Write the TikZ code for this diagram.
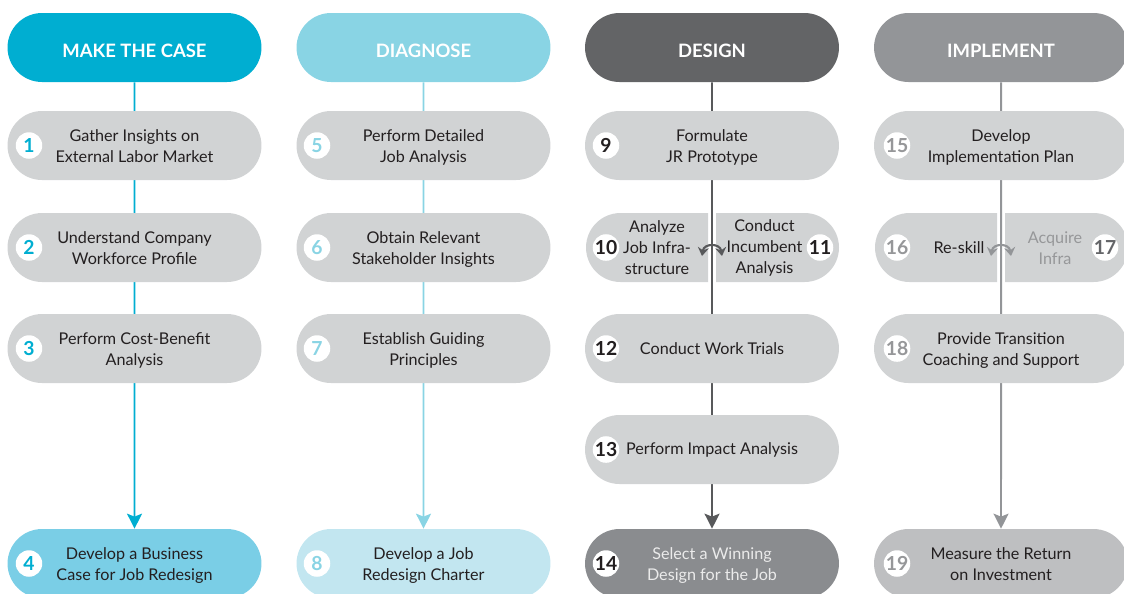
\documentclass[tikz,border=0pt]{standalone}
\usepackage{fontspec}
\setmainfont{Lato}
\usetikzlibrary{shapes.misc,arrows.meta,backgrounds}
\definecolor{cA}{RGB}{0,174,209}
\definecolor{cB}{RGB}{137,212,228}
\definecolor{cC}{RGB}{99,100,102}
\definecolor{cD}{RGB}{147,149,152}
\definecolor{lineC}{RGB}{88,89,91}
\definecolor{pillgray}{RGB}{209,211,212}
\definecolor{botA}{RGB}{122,206,230}
\definecolor{botB}{RGB}{194,230,240}
\definecolor{botC}{RGB}{138,140,143}
\definecolor{botD}{RGB}{190,191,193}
\definecolor{txt}{RGB}{35,31,32}
\definecolor{lighttxt}{RGB}{150,151,153}
\definecolor{numD}{RGB}{150,151,153}
\definecolor{numDk}{RGB}{100,101,104}
\newcommand\twolines[2]{\raisebox{0pt}[19pt][0pt]{\begin{tabular}[b]{@{}c@{}}#1\\#2\end{tabular}}}
\begin{document}
\begin{tikzpicture}[x=0.02cm,y=-0.02cm,
  pill/.style={rounded rectangle, minimum width=5.08cm, minimum height=1.38cm, inner sep=0pt,
    fill=pillgray, text=txt, font=\fontsize{9.2}{11.9}\selectfont, align=center},
  head/.style={rounded rectangle, minimum width=5.08cm, minimum height=1.38cm, inner sep=0pt,
    font=\fontsize{10.5}{13}\selectfont\bfseries, text=white, text height=11.2pt, text depth=0pt},
  halfL/.style={pill, minimum width=2.44cm, rounded rectangle right arc=none},
  halfR/.style={pill, minimum width=2.46cm, rounded rectangle left arc=none},
  lbl/.style={text=txt, font=\fontsize{9.2}{11.9}\selectfont, align=center, inner sep=0pt},
  num/.style={circle, fill=white, minimum size=0.53cm, inner sep=0pt, font=\fontsize{11}{12}\selectfont\bfseries},
  flow/.style={line width=1.1pt},
  tip/.style={-{Stealth[length=0.3cm,width=0.3cm,inset=0.06cm]}},
  swap/.style={line width=1.2pt, {Stealth[length=0.17cm,width=0.22cm]}-{Stealth[length=0.17cm,width=0.22cm]}}
]
\useasboundingbox (0,0) rectangle (1124,593);

% headers
\node[head, fill=cA] (h1) at (134.5,47.5) {MAKE THE CASE};
\node[head, fill=cB] (h2) at (423.5,47.5) {DIAGNOSE};
\node[head, fill=cC] (h3) at (712,47.5) {DESIGN};
\node[head, fill=cD] (h4) at (1001,47.5) {IMPLEMENT};

% column 1
\node[pill] (p1) at (134.5,145.5) {\twolines{Gather Insights on}{External Labor Market}};
\node[pill] (p2) at (134.5,247.5) {\twolines{Understand Company}{Workforce Profile}};
\node[pill] (p3) at (134.5,348.5) {\twolines{Perform Cost-Benefit}{Analysis}};
\node[pill, fill=botA] (p4) at (134.5,563.5) {\twolines{Develop a Business}{Case for Job Redesign}};
\node[num, text=cA] (n1) at (29,145.5) {1};
\node[num, text=cA] (n2) at (29,247.5) {2};
\node[num, text=cA] (n3) at (29,348.5) {3};
\node[num, text=cA] (n4) at (29,563.5) {4};

% column 2
\node[pill] (p5) at (423.5,145.5) {\twolines{Perform Detailed}{Job Analysis}};
\node[pill] (p6) at (423.5,247.5) {\twolines{Obtain Relevant}{Stakeholder Insights}};
\node[pill] (p7) at (423.5,348.5) {\twolines{Establish Guiding}{Principles}};
\node[pill, fill=botB] (p8) at (423.5,563.5) {\twolines{Develop a Job}{Redesign Charter}};
\node[num, text=cB] (n5) at (317,145.5) {5};
\node[num, text=cB] (n6) at (317,247.5) {6};
\node[num, text=cB] (n7) at (317,348.5) {7};
\node[num, text=cB] (n8) at (317,563.5) {8};

% column 3
\node[pill] (p9) at (712,145.5) {\twolines{Formulate}{JR Prototype}};
\node[halfL] (p10) at (647,247.5) {};
\node[halfR] (p11) at (777.5,247.5) {};
\node[lbl] (t10) at (657,248) {Analyze\\Job Infra-\\structure};
\node[lbl] (t11) at (764.5,248) {Conduct\\Incumbent\\Analysis};
\node[pill] (p12) at (712,348.5) {Conduct Work Trials};
\node[pill] (p13) at (712,449.5) {Perform Impact Analysis};
\node[pill, fill=botC, text=white!92!black] (p14) at (712,563.5) {\twolines{Select a Winning}{Design for the Job}};
\node[num, text=txt] (n9) at (606,145.5) {9};
\node[num, text=txt] (n10) at (606,247.5) {10};
\node[num, text=txt] (n11) at (820,247.5) {11};
\node[num, text=txt] (n12) at (606,348.5) {12};
\node[num, text=txt] (n13) at (606,449.5) {13};
\node[num, text=txt] (n14) at (606,563.5) {14};

% column 4
\node[pill] (p15) at (1001,145.5) {\twolines{Develop}{Implementation Plan}};
\node[halfL] (p16) at (936,247.5) {};
\node[halfR] (p17) at (1066.5,247.5) {};
\node[lbl] (t16) at (959,248) {Re-skill};
\node[lbl, text=lighttxt] (t17) at (1055,248) {Acquire\\Infra};
\node[pill] (p18) at (1001,348.5) {\twolines{Provide Transition}{Coaching and Support}};
\node[pill, fill=botD] (p19) at (1001,563.5) {\twolines{Measure the Return}{on Investment}};
\node[num, text=numD] (n15) at (897,145.5) {15};
\node[num, text=numD] (n16) at (897,247.5) {16};
\node[num, text=numDk] (n17) at (1105,247.5) {17};
\node[num, text=numD] (n18) at (897,348.5) {18};
\node[num, text=numD] (n19) at (897,563.5) {19};

% swap arrows
\coordinate (s10a) at (702,256);
\coordinate (s10b) at (722,256);
\draw[swap, lineC] (s10a) .. controls (704,243) and (720,243) .. (s10b);
\coordinate (s16a) at (991,256);
\coordinate (s16b) at (1011,256);
\draw[swap, cD] (s16a) .. controls (993,243) and (1009,243) .. (s16b);

% flow lines behind the pills
\begin{pgfonlayer}{background}
\draw[flow, cA, tip] (h1) -- (p4);
\draw[flow, cB, tip] (h2) -- (p8);
\draw[flow, lineC, tip] (h3) -- (p14);
\draw[flow, cD, tip] (h4) -- (p19);
\end{pgfonlayer}
\end{tikzpicture}
\end{document}
